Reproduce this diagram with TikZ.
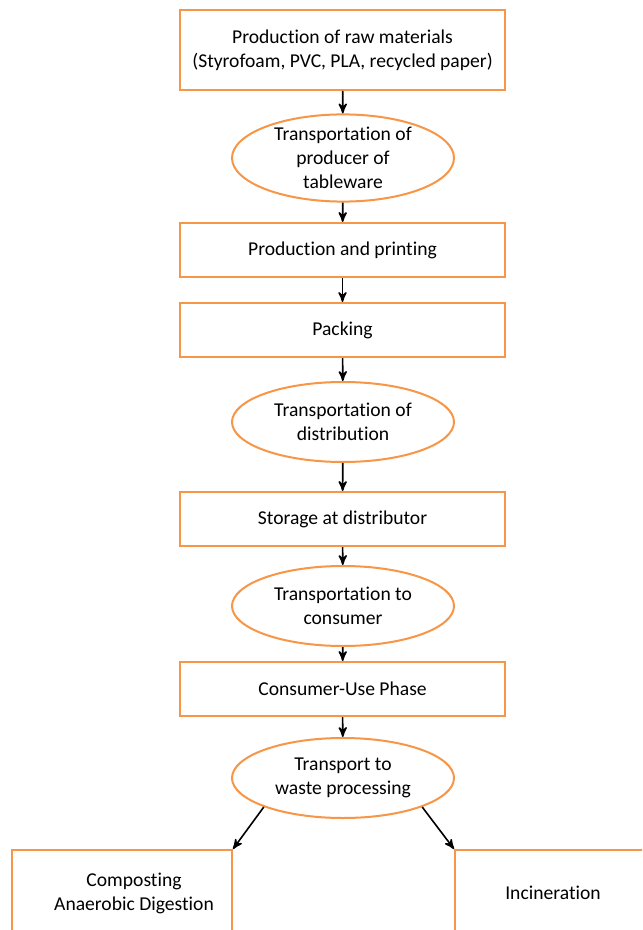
\documentclass[tikz,border=0pt]{standalone}
\usepackage{fontspec}
\setmainfont{Carlito}[Ligatures=CommonOff]
\usepackage{xcolor}
\usetikzlibrary{arrows, shapes.geometric, positioning}
\definecolor{lcaorange}{HTML}{F79646}
\tikzset{
    procbox/.style={draw=lcaorange, line width=1pt, rectangle, minimum width=162.5pt, minimum height=27pt, inner sep=0pt, align=center},
    transell/.style={draw=lcaorange, line width=1pt, ellipse, minimum width=111pt, minimum height=40pt, inner sep=0pt, align=center},
    endbox/.style={draw=lcaorange, line width=1pt, rectangle, minimum height=43pt, inner sep=0pt, align=center},
    flow/.style={->, >=stealth', line width=0.8pt}
}

\begin{document}
\begin{tikzpicture}[x=0.5pt, y=-0.5pt, font=\fontsize{9.8}{12}\selectfont]
    \clip (0,0) rectangle (642,930);
    \fill[white] (0,0) rectangle (642,930);

    \node[procbox, minimum height=40pt] (raw) at (342.5,50) {Production of raw materials\\(Styrofoam, PVC, PLA, recycled paper)};
    \node[transell] (tr1) at (343,158) {Transportation of\\producer of\\tableware};
    \node[procbox] (prod) at (342.5,250) {Production and printing};
    \node[procbox] (pack) at (342.5,330) {Packing};
    \node[transell] (tr2) at (343,422) {Transportation of\\distribution};
    \node[procbox] (store) at (342.5,519) {Storage at distributor};
    \node[transell] (tr3) at (343,606) {Transportation to\\consumer};
    \node[procbox] (use) at (342.5,689) {Consumer-Use Phase};
    \node[transell] (tr4) at (343,778) {Transport to\\waste processing};
    \node[endbox, minimum width=110pt] (comp) at (122,893) {\hspace*{12pt}Composting\\\hspace*{12pt}Anaerobic Digestion};
    \node[endbox, minimum width=98pt] (inc) at (553,893) {Incineration};

    \draw[flow] (raw) -- (tr1);
    \draw[flow] (tr1) -- (prod);
    \draw[flow] (prod) -- (pack);
    \draw[flow] (pack) -- (tr2);
    \draw[flow] (tr2) -- (store);
    \draw[flow] (store) -- (tr3);
    \draw[flow] (tr3) -- (use);
    \draw[flow] (use) -- (tr4);
    \draw[flow] (tr4.south west) -- (comp.north east);
    \draw[flow] (tr4.south east) -- (inc.north west);
\end{tikzpicture}
\end{document}
